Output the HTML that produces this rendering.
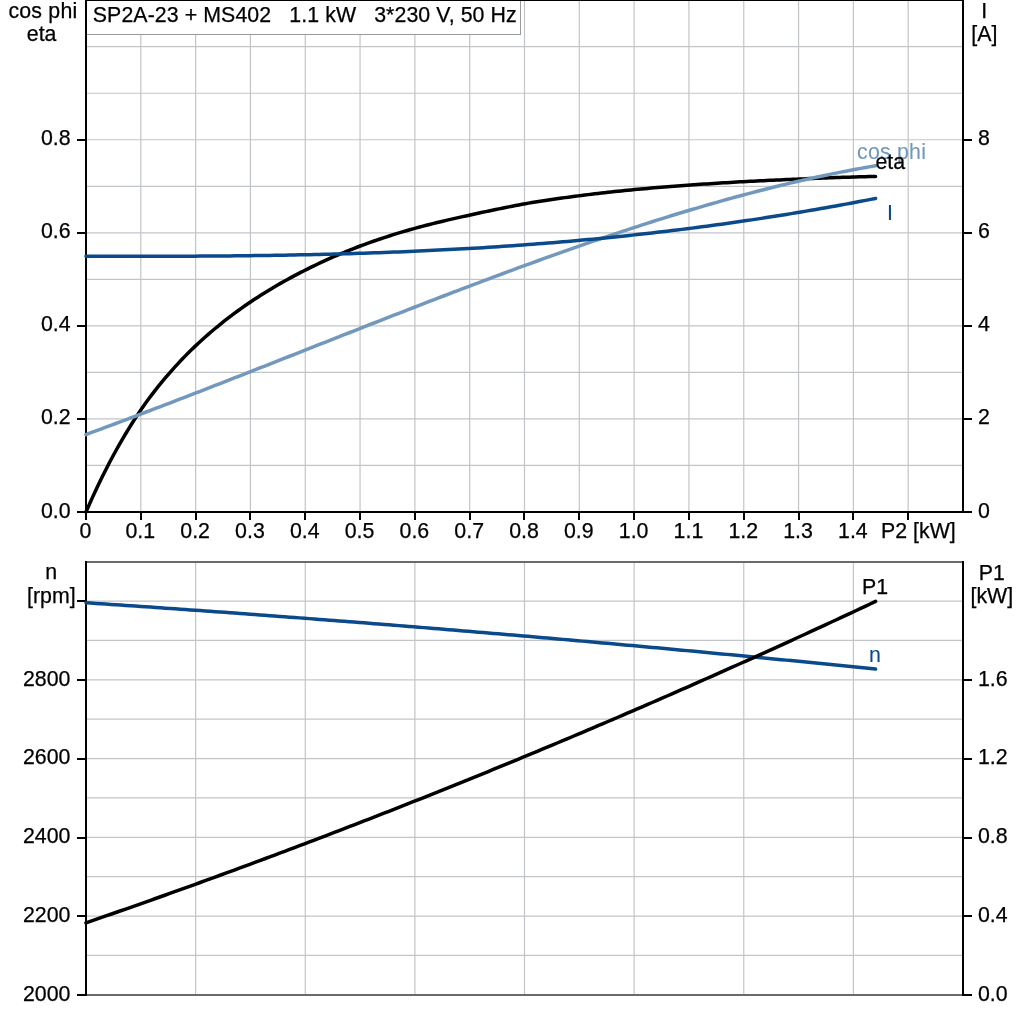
<!DOCTYPE html>
<html lang="en"><head><meta charset="utf-8"><title>SP2A-23 + MS402 motor curves</title>
<style>
html,body{margin:0;padding:0;background:#fff;}
body{width:1024px;height:1024px;overflow:hidden;}
svg{display:block;}
text{font-family:"Liberation Sans",Arial,Helvetica,sans-serif;font-size:21.33px;fill:#000;stroke:#000;stroke-width:0.25px;}
.g{stroke:#c2c5c8;stroke-width:1.2;}
.ax{stroke:#000;stroke-width:2;shape-rendering:crispEdges;}
.fr{stroke:#6a6a6a;stroke-width:2;shape-rendering:crispEdges;}
.c{fill:none;stroke-width:3.5;stroke-linecap:round;stroke-linejoin:round;}
.e{text-anchor:end;}.m{text-anchor:middle;}
</style></head><body>
<svg width="1024" height="1024" viewBox="0 0 1024 1024">
<rect x="0" y="0" width="1024" height="1024" fill="#fff"/>
<g class="g">
<line x1="140.81" y1="0" x2="140.81" y2="511"/>
<line x1="195.62" y1="0" x2="195.62" y2="511"/>
<line x1="250.44" y1="0" x2="250.44" y2="511"/>
<line x1="305.25" y1="0" x2="305.25" y2="511"/>
<line x1="360.06" y1="0" x2="360.06" y2="511"/>
<line x1="414.88" y1="0" x2="414.88" y2="511"/>
<line x1="469.69" y1="0" x2="469.69" y2="511"/>
<line x1="524.5" y1="0" x2="524.5" y2="511"/>
<line x1="579.31" y1="0" x2="579.31" y2="511"/>
<line x1="634.12" y1="0" x2="634.12" y2="511"/>
<line x1="688.94" y1="0" x2="688.94" y2="511"/>
<line x1="743.75" y1="0" x2="743.75" y2="511"/>
<line x1="798.56" y1="0" x2="798.56" y2="511"/>
<line x1="853.38" y1="0" x2="853.38" y2="511"/>
<line x1="908.19" y1="0" x2="908.19" y2="511"/>
<line x1="87" y1="465.47" x2="962" y2="465.47"/>
<line x1="87" y1="418.94" x2="962" y2="418.94"/>
<line x1="87" y1="372.41" x2="962" y2="372.41"/>
<line x1="87" y1="325.88" x2="962" y2="325.88"/>
<line x1="87" y1="279.35" x2="962" y2="279.35"/>
<line x1="87" y1="232.82" x2="962" y2="232.82"/>
<line x1="87" y1="186.29" x2="962" y2="186.29"/>
<line x1="87" y1="139.76" x2="962" y2="139.76"/>
<line x1="87" y1="93.23" x2="962" y2="93.23"/>
<line x1="87" y1="46.7" x2="962" y2="46.7"/>
</g>
<rect x="87" y="1" width="434" height="33.5" fill="#fff" stroke="none"/>
<path d="M520.5 1 V34.5 H87" fill="none" stroke="#999999" stroke-width="1" shape-rendering="crispEdges"/>
<text x="92.8" y="21.7" style="white-space:pre;letter-spacing:0.08px">SP2A-23 + MS402&#160;&#160; 1.1 kW&#160;&#160; 3*230 V, 50 Hz</text>
<g class="g">
<line x1="195.62" y1="563" x2="195.62" y2="994"/>
<line x1="305.25" y1="563" x2="305.25" y2="994"/>
<line x1="414.88" y1="563" x2="414.88" y2="994"/>
<line x1="524.5" y1="563" x2="524.5" y2="994"/>
<line x1="634.12" y1="563" x2="634.12" y2="994"/>
<line x1="743.75" y1="563" x2="743.75" y2="994"/>
<line x1="853.38" y1="563" x2="853.38" y2="994"/>
<line x1="87" y1="955.43" x2="962" y2="955.43"/>
<line x1="87" y1="916.06" x2="962" y2="916.06"/>
<line x1="87" y1="876.69" x2="962" y2="876.69"/>
<line x1="87" y1="837.32" x2="962" y2="837.32"/>
<line x1="87" y1="797.95" x2="962" y2="797.95"/>
<line x1="87" y1="758.58" x2="962" y2="758.58"/>
<line x1="87" y1="719.21" x2="962" y2="719.21"/>
<line x1="87" y1="679.84" x2="962" y2="679.84"/>
<line x1="87" y1="640.47" x2="962" y2="640.47"/>
<line x1="87" y1="601.1" x2="962" y2="601.1"/>
</g>
<g class="fr">
<line x1="86" y1="562" x2="963" y2="562"/>
<line x1="86" y1="995" x2="963" y2="995"/>
</g>
<g class="ax">
<line x1="85" y1="0" x2="964" y2="0"/>
<line x1="86" y1="0" x2="86" y2="513"/>
<line x1="963" y1="0" x2="963" y2="513"/>
<line x1="77" y1="512" x2="972" y2="512"/>
<line x1="86" y1="561" x2="86" y2="996"/>
<line x1="963" y1="561" x2="963" y2="996"/>
<line x1="77" y1="512" x2="85" y2="512"/>
<line x1="964" y1="512" x2="972" y2="512"/>
<line x1="77" y1="419" x2="85" y2="419"/>
<line x1="964" y1="419" x2="972" y2="419"/>
<line x1="77" y1="326" x2="85" y2="326"/>
<line x1="964" y1="326" x2="972" y2="326"/>
<line x1="77" y1="233" x2="85" y2="233"/>
<line x1="964" y1="233" x2="972" y2="233"/>
<line x1="77" y1="140" x2="85" y2="140"/>
<line x1="964" y1="140" x2="972" y2="140"/>
<line x1="86" y1="513" x2="86" y2="520"/>
<line x1="141" y1="513" x2="141" y2="520"/>
<line x1="196" y1="513" x2="196" y2="520"/>
<line x1="250" y1="513" x2="250" y2="520"/>
<line x1="305" y1="513" x2="305" y2="520"/>
<line x1="360" y1="513" x2="360" y2="520"/>
<line x1="415" y1="513" x2="415" y2="520"/>
<line x1="470" y1="513" x2="470" y2="520"/>
<line x1="524" y1="513" x2="524" y2="520"/>
<line x1="579" y1="513" x2="579" y2="520"/>
<line x1="634" y1="513" x2="634" y2="520"/>
<line x1="689" y1="513" x2="689" y2="520"/>
<line x1="744" y1="513" x2="744" y2="520"/>
<line x1="799" y1="513" x2="799" y2="520"/>
<line x1="853" y1="513" x2="853" y2="520"/>
<line x1="908" y1="513" x2="908" y2="520"/>
<line x1="77" y1="995" x2="85" y2="995"/>
<line x1="964" y1="995" x2="972" y2="995"/>
<line x1="77" y1="916" x2="85" y2="916"/>
<line x1="964" y1="916" x2="972" y2="916"/>
<line x1="77" y1="838" x2="85" y2="838"/>
<line x1="964" y1="838" x2="972" y2="838"/>
<line x1="77" y1="759" x2="85" y2="759"/>
<line x1="964" y1="759" x2="972" y2="759"/>
<line x1="77" y1="680" x2="85" y2="680"/>
<line x1="964" y1="680" x2="972" y2="680"/>
<line x1="77" y1="601" x2="85" y2="601"/>
</g>
<path class="c" stroke="#000" d="M86 512 L89.3 504.47 L92.61 497.13 L95.91 489.99 L99.22 483.03 L102.52 476.25 L105.82 469.66 L109.13 463.26 L112.43 457.04 L115.73 450.99 L119.04 445.1 L122.34 439.35 L125.65 433.75 L128.95 428.3 L132.25 423 L135.56 417.84 L138.86 412.84 L142.16 407.99 L145.47 403.29 L148.77 398.73 L152.08 394.33 L155.38 390.06 L158.68 385.94 L161.99 381.91 L165.29 377.97 L168.59 374.12 L171.9 370.35 L175.2 366.67 L178.51 363.07 L181.81 359.56 L185.11 356.14 L188.42 352.8 L191.72 349.55 L195.02 346.38 L198.33 343.29 L201.63 340.26 L204.94 337.3 L208.24 334.4 L211.54 331.55 L214.85 328.77 L218.15 326.03 L221.45 323.36 L224.76 320.73 L228.06 318.16 L231.37 315.64 L234.67 313.17 L237.97 310.75 L241.28 308.37 L244.58 306.04 L247.88 303.76 L251.19 301.52 L254.49 299.32 L257.8 297.16 L261.1 295.04 L264.4 292.97 L267.71 290.92 L271.01 288.92 L274.31 286.95 L277.62 285.02 L280.92 283.12 L284.23 281.25 L287.53 279.42 L290.83 277.62 L294.14 275.85 L297.44 274.11 L300.74 272.4 L304.05 270.72 L307.35 269.07 L310.66 267.44 L313.96 265.83 L317.26 264.25 L320.57 262.7 L323.87 261.16 L327.17 259.66 L330.48 258.17 L333.78 256.72 L337.09 255.29 L340.39 253.88 L343.69 252.5 L347 251.15 L350.3 249.82 L353.61 248.52 L356.91 247.25 L360.21 246 L363.52 244.78 L366.82 243.58 L370.12 242.4 L373.43 241.24 L376.73 240.1 L380.04 238.98 L383.34 237.88 L386.64 236.8 L389.95 235.74 L393.25 234.69 L396.55 233.67 L399.86 232.66 L403.16 231.68 L406.47 230.71 L409.77 229.76 L413.07 228.82 L416.38 227.91 L419.68 227.01 L422.98 226.13 L426.29 225.27 L429.59 224.43 L432.9 223.6 L436.2 222.79 L439.5 221.99 L442.81 221.2 L446.11 220.42 L449.41 219.65 L452.72 218.9 L456.02 218.14 L459.33 217.4 L462.63 216.66 L465.93 215.92 L469.24 215.19 L472.54 214.46 L475.84 213.74 L479.15 213.02 L482.45 212.32 L485.76 211.62 L489.06 210.93 L492.36 210.24 L495.67 209.56 L498.97 208.89 L502.27 208.22 L505.58 207.56 L508.88 206.9 L512.19 206.24 L515.49 205.58 L518.79 204.93 L522.1 204.3 L525.4 203.71 L528.7 203.14 L532.01 202.59 L535.31 202.04 L538.62 201.51 L541.92 200.99 L545.22 200.48 L548.53 199.98 L551.83 199.49 L555.13 199.01 L558.44 198.54 L561.74 198.08 L565.05 197.62 L568.35 197.17 L571.65 196.73 L574.96 196.3 L578.26 195.87 L581.56 195.45 L584.87 195.04 L588.17 194.63 L591.48 194.23 L594.78 193.84 L598.08 193.45 L601.39 193.07 L604.69 192.69 L607.99 192.32 L611.3 191.96 L614.6 191.6 L617.91 191.25 L621.21 190.91 L624.51 190.58 L627.82 190.25 L631.12 189.92 L634.43 189.6 L637.73 189.29 L641.03 188.99 L644.34 188.69 L647.64 188.39 L650.94 188.1 L654.25 187.82 L657.55 187.54 L660.86 187.26 L664.16 186.99 L667.46 186.73 L670.77 186.47 L674.07 186.21 L677.37 185.96 L680.68 185.71 L683.98 185.47 L687.29 185.23 L690.59 184.99 L693.89 184.76 L697.2 184.53 L700.5 184.31 L703.8 184.1 L707.11 183.88 L710.41 183.67 L713.72 183.47 L717.02 183.26 L720.32 183.05 L723.63 182.85 L726.93 182.64 L730.23 182.44 L733.54 182.24 L736.84 182.05 L740.15 181.86 L743.45 181.67 L746.75 181.49 L750.06 181.32 L753.36 181.15 L756.66 180.98 L759.97 180.82 L763.27 180.65 L766.58 180.5 L769.88 180.34 L773.18 180.19 L776.49 180.04 L779.79 179.89 L783.09 179.74 L786.4 179.59 L789.7 179.45 L793.01 179.31 L796.31 179.17 L799.61 179.03 L802.92 178.89 L806.22 178.76 L809.52 178.62 L812.83 178.49 L816.13 178.35 L819.44 178.22 L822.74 178.09 L826.04 177.96 L829.35 177.84 L832.65 177.72 L835.95 177.6 L839.26 177.48 L842.56 177.37 L845.87 177.26 L849.17 177.16 L852.47 177.05 L855.78 176.96 L859.08 176.87 L862.38 176.78 L865.69 176.69 L868.99 176.61 L872.3 176.53 L875.6 176.45"/>
<path class="c" stroke="#7299bd" d="M86 434.57 L90.97 432.73 L95.93 430.9 L100.9 429.06 L105.86 427.21 L110.83 425.36 L115.8 423.5 L120.76 421.64 L125.73 419.77 L130.69 417.9 L135.66 416.02 L140.63 414.14 L145.59 412.26 L150.56 410.37 L155.52 408.47 L160.49 406.58 L165.46 404.68 L170.42 402.77 L175.39 400.86 L180.35 398.95 L185.32 397.03 L190.29 395.12 L195.25 393.19 L200.22 391.27 L205.18 389.34 L210.15 387.41 L215.12 385.48 L220.08 383.54 L225.05 381.6 L230.02 379.66 L234.98 377.72 L239.95 375.78 L244.91 373.83 L249.88 371.88 L254.85 369.93 L259.81 367.98 L264.78 366.03 L269.74 364.07 L274.71 362.12 L279.68 360.16 L284.64 358.2 L289.61 356.25 L294.57 354.29 L299.54 352.33 L304.51 350.37 L309.47 348.41 L314.44 346.45 L319.4 344.49 L324.37 342.54 L329.34 340.58 L334.3 338.62 L339.27 336.66 L344.23 334.71 L349.2 332.75 L354.17 330.8 L359.13 328.85 L364.1 326.89 L369.06 324.95 L374.03 323 L379 321.05 L383.96 319.11 L388.93 317.17 L393.89 315.23 L398.86 313.29 L403.83 311.36 L408.79 309.43 L413.76 307.5 L418.72 305.57 L423.69 303.65 L428.66 301.73 L433.62 299.82 L438.59 297.91 L443.55 296 L448.52 294.1 L453.49 292.2 L458.45 290.3 L463.42 288.42 L468.38 286.53 L473.35 284.65 L478.32 282.78 L483.28 280.91 L488.25 279.04 L493.22 277.19 L498.18 275.33 L503.15 273.49 L508.11 271.65 L513.08 269.81 L518.05 267.98 L523.01 266.16 L527.98 264.35 L532.94 262.54 L537.91 260.74 L542.88 258.95 L547.84 257.17 L552.81 255.39 L557.77 253.62 L562.74 251.86 L567.71 250.11 L572.67 248.36 L577.64 246.63 L582.6 244.9 L587.57 243.18 L592.54 241.47 L597.5 239.77 L602.47 238.08 L607.43 236.4 L612.4 234.73 L617.37 233.07 L622.33 231.42 L627.3 229.79 L632.26 228.16 L637.23 226.54 L642.2 224.93 L647.16 223.34 L652.13 221.76 L657.09 220.18 L662.06 218.62 L667.03 217.08 L671.99 215.54 L676.96 214.02 L681.92 212.51 L686.89 211.01 L691.86 209.53 L696.82 208.06 L701.79 206.6 L706.75 205.16 L711.72 203.73 L716.69 202.31 L721.65 200.91 L726.62 199.52 L731.58 198.15 L736.55 196.8 L741.52 195.45 L746.48 194.13 L751.45 192.82 L756.42 191.52 L761.38 190.25 L766.35 188.98 L771.31 187.74 L776.28 186.51 L781.25 185.3 L786.21 184.1 L791.18 182.92 L796.14 181.76 L801.11 180.62 L806.08 179.5 L811.04 178.39 L816.01 177.3 L820.97 176.23 L825.94 175.18 L830.91 174.15 L835.87 173.14 L840.84 172.15 L845.8 171.18 L850.77 170.23 L855.74 169.3 L860.7 168.38 L865.67 167.49 L870.63 166.62 L875.6 165.78"/>
<path class="c" stroke="#0a4a8a" d="M86 256.29 L90.97 256.3 L95.93 256.3 L100.9 256.31 L105.86 256.31 L110.83 256.31 L115.8 256.32 L120.76 256.32 L125.73 256.32 L130.69 256.31 L135.66 256.31 L140.63 256.31 L145.59 256.3 L150.56 256.29 L155.52 256.29 L160.49 256.27 L165.46 256.26 L170.42 256.25 L175.39 256.23 L180.35 256.21 L185.32 256.19 L190.29 256.17 L195.25 256.14 L200.22 256.11 L205.18 256.08 L210.15 256.05 L215.12 256.01 L220.08 255.97 L225.05 255.93 L230.02 255.88 L234.98 255.83 L239.95 255.78 L244.91 255.72 L249.88 255.66 L254.85 255.6 L259.81 255.54 L264.78 255.47 L269.74 255.39 L274.71 255.31 L279.68 255.23 L284.64 255.15 L289.61 255.06 L294.57 254.97 L299.54 254.87 L304.51 254.77 L309.47 254.66 L314.44 254.55 L319.4 254.43 L324.37 254.31 L329.34 254.19 L334.3 254.06 L339.27 253.93 L344.23 253.79 L349.2 253.64 L354.17 253.49 L359.13 253.34 L364.1 253.18 L369.06 253.02 L374.03 252.85 L379 252.67 L383.96 252.49 L388.93 252.3 L393.89 252.11 L398.86 251.92 L403.83 251.71 L408.79 251.5 L413.76 251.29 L418.72 251.07 L423.69 250.84 L428.66 250.61 L433.62 250.37 L438.59 250.12 L443.55 249.87 L448.52 249.61 L453.49 249.35 L458.45 249.08 L463.42 248.8 L468.38 248.52 L473.35 248.23 L478.32 247.93 L483.28 247.63 L488.25 247.32 L493.22 247 L498.18 246.68 L503.15 246.35 L508.11 246.01 L513.08 245.66 L518.05 245.31 L523.01 244.95 L527.98 244.58 L532.94 244.21 L537.91 243.83 L542.88 243.44 L547.84 243.04 L552.81 242.64 L557.77 242.23 L562.74 241.81 L567.71 241.39 L572.67 240.95 L577.64 240.51 L582.6 240.06 L587.57 239.6 L592.54 239.14 L597.5 238.67 L602.47 238.18 L607.43 237.7 L612.4 237.2 L617.37 236.69 L622.33 236.18 L627.3 235.66 L632.26 235.13 L637.23 234.59 L642.2 234.05 L647.16 233.49 L652.13 232.93 L657.09 232.36 L662.06 231.78 L667.03 231.19 L671.99 230.59 L676.96 229.99 L681.92 229.37 L686.89 228.75 L691.86 228.12 L696.82 227.48 L701.79 226.83 L706.75 226.17 L711.72 225.51 L716.69 224.83 L721.65 224.15 L726.62 223.46 L731.58 222.76 L736.55 222.05 L741.52 221.33 L746.48 220.6 L751.45 219.86 L756.42 219.11 L761.38 218.36 L766.35 217.59 L771.31 216.82 L776.28 216.04 L781.25 215.24 L786.21 214.44 L791.18 213.63 L796.14 212.81 L801.11 211.98 L806.08 211.14 L811.04 210.3 L816.01 209.44 L820.97 208.57 L825.94 207.7 L830.91 206.81 L835.87 205.92 L840.84 205.01 L845.8 204.1 L850.77 203.17 L855.74 202.24 L860.7 201.3 L865.67 200.35 L870.63 199.39 L875.6 198.42"/>
<path class="c" stroke="#0a4a8a" d="M86 602.76 L90.97 603.09 L95.93 603.42 L100.9 603.75 L105.86 604.08 L110.83 604.41 L115.8 604.74 L120.76 605.08 L125.73 605.41 L130.69 605.75 L135.66 606.09 L140.63 606.43 L145.59 606.77 L150.56 607.11 L155.52 607.45 L160.49 607.8 L165.46 608.14 L170.42 608.49 L175.39 608.83 L180.35 609.18 L185.32 609.53 L190.29 609.88 L195.25 610.23 L200.22 610.59 L205.18 610.94 L210.15 611.3 L215.12 611.65 L220.08 612.01 L225.05 612.37 L230.02 612.73 L234.98 613.09 L239.95 613.45 L244.91 613.81 L249.88 614.18 L254.85 614.54 L259.81 614.91 L264.78 615.27 L269.74 615.64 L274.71 616.01 L279.68 616.38 L284.64 616.76 L289.61 617.13 L294.57 617.5 L299.54 617.88 L304.51 618.25 L309.47 618.63 L314.44 619.01 L319.4 619.39 L324.37 619.77 L329.34 620.15 L334.3 620.54 L339.27 620.92 L344.23 621.31 L349.2 621.69 L354.17 622.08 L359.13 622.47 L364.1 622.86 L369.06 623.25 L374.03 623.64 L379 624.04 L383.96 624.43 L388.93 624.83 L393.89 625.22 L398.86 625.62 L403.83 626.02 L408.79 626.42 L413.76 626.82 L418.72 627.22 L423.69 627.63 L428.66 628.03 L433.62 628.44 L438.59 628.84 L443.55 629.25 L448.52 629.66 L453.49 630.07 L458.45 630.48 L463.42 630.9 L468.38 631.31 L473.35 631.72 L478.32 632.14 L483.28 632.56 L488.25 632.97 L493.22 633.39 L498.18 633.81 L503.15 634.24 L508.11 634.66 L513.08 635.08 L518.05 635.51 L523.01 635.93 L527.98 636.36 L532.94 636.79 L537.91 637.22 L542.88 637.65 L547.84 638.08 L552.81 638.51 L557.77 638.95 L562.74 639.38 L567.71 639.82 L572.67 640.25 L577.64 640.69 L582.6 641.13 L587.57 641.57 L592.54 642.02 L597.5 642.46 L602.47 642.9 L607.43 643.35 L612.4 643.79 L617.37 644.24 L622.33 644.69 L627.3 645.14 L632.26 645.59 L637.23 646.04 L642.2 646.5 L647.16 646.95 L652.13 647.4 L657.09 647.86 L662.06 648.32 L667.03 648.78 L671.99 649.24 L676.96 649.7 L681.92 650.16 L686.89 650.62 L691.86 651.09 L696.82 651.55 L701.79 652.02 L706.75 652.49 L711.72 652.96 L716.69 653.43 L721.65 653.9 L726.62 654.37 L731.58 654.84 L736.55 655.32 L741.52 655.79 L746.48 656.27 L751.45 656.75 L756.42 657.23 L761.38 657.71 L766.35 658.19 L771.31 658.67 L776.28 659.15 L781.25 659.64 L786.21 660.12 L791.18 660.61 L796.14 661.1 L801.11 661.59 L806.08 662.08 L811.04 662.57 L816.01 663.06 L820.97 663.56 L825.94 664.05 L830.91 664.55 L835.87 665.04 L840.84 665.54 L845.8 666.04 L850.77 666.54 L855.74 667.04 L860.7 667.55 L865.67 668.05 L870.63 668.55 L875.6 669.06"/>
<path class="c" stroke="#000" d="M86 922.83 L90.97 921.12 L95.93 919.4 L100.9 917.68 L105.86 915.96 L110.83 914.23 L115.8 912.5 L120.76 910.77 L125.73 909.03 L130.69 907.29 L135.66 905.54 L140.63 903.79 L145.59 902.04 L150.56 900.28 L155.52 898.52 L160.49 896.75 L165.46 894.98 L170.42 893.21 L175.39 891.43 L180.35 889.65 L185.32 887.87 L190.29 886.08 L195.25 884.28 L200.22 882.49 L205.18 880.68 L210.15 878.88 L215.12 877.07 L220.08 875.26 L225.05 873.44 L230.02 871.62 L234.98 869.8 L239.95 867.97 L244.91 866.13 L249.88 864.3 L254.85 862.46 L259.81 860.61 L264.78 858.76 L269.74 856.91 L274.71 855.06 L279.68 853.2 L284.64 851.33 L289.61 849.46 L294.57 847.59 L299.54 845.72 L304.51 843.84 L309.47 841.95 L314.44 840.07 L319.4 838.17 L324.37 836.28 L329.34 834.38 L334.3 832.48 L339.27 830.57 L344.23 828.66 L349.2 826.74 L354.17 824.82 L359.13 822.9 L364.1 820.97 L369.06 819.04 L374.03 817.11 L379 815.17 L383.96 813.23 L388.93 811.28 L393.89 809.33 L398.86 807.37 L403.83 805.42 L408.79 803.45 L413.76 801.49 L418.72 799.52 L423.69 797.54 L428.66 795.57 L433.62 793.58 L438.59 791.6 L443.55 789.61 L448.52 787.61 L453.49 785.62 L458.45 783.62 L463.42 781.61 L468.38 779.6 L473.35 777.59 L478.32 775.57 L483.28 773.55 L488.25 771.52 L493.22 769.49 L498.18 767.46 L503.15 765.42 L508.11 763.38 L513.08 761.34 L518.05 759.29 L523.01 757.24 L527.98 755.18 L532.94 753.12 L537.91 751.05 L542.88 748.99 L547.84 746.91 L552.81 744.84 L557.77 742.76 L562.74 740.67 L567.71 738.58 L572.67 736.49 L577.64 734.4 L582.6 732.3 L587.57 730.19 L592.54 728.08 L597.5 725.97 L602.47 723.86 L607.43 721.74 L612.4 719.61 L617.37 717.49 L622.33 715.35 L627.3 713.22 L632.26 711.08 L637.23 708.94 L642.2 706.79 L647.16 704.64 L652.13 702.48 L657.09 700.32 L662.06 698.16 L667.03 695.99 L671.99 693.82 L676.96 691.65 L681.92 689.47 L686.89 687.29 L691.86 685.1 L696.82 682.91 L701.79 680.72 L706.75 678.52 L711.72 676.32 L716.69 674.11 L721.65 671.9 L726.62 669.68 L731.58 667.47 L736.55 665.24 L741.52 663.02 L746.48 660.79 L751.45 658.56 L756.42 656.32 L761.38 654.08 L766.35 651.83 L771.31 649.58 L776.28 647.33 L781.25 645.07 L786.21 642.81 L791.18 640.54 L796.14 638.27 L801.11 636 L806.08 633.72 L811.04 631.44 L816.01 629.16 L820.97 626.87 L825.94 624.58 L830.91 622.28 L835.87 619.98 L840.84 617.67 L845.8 615.36 L850.77 613.05 L855.74 610.74 L860.7 608.41 L865.67 606.09 L870.63 603.76 L875.6 601.43"/>
<text x="857" y="158.5" style="fill:#7299bd;stroke:#7299bd;letter-spacing:0.22px;stroke-width:0.1px">cos phi</text>
<text x="875.5" y="168.5">eta</text>
<text x="887.1" y="220" style="fill:#0a4a8a;stroke:#0a4a8a;stroke-width:0.1px">I</text>
<text x="862" y="594">P1</text>
<text x="869" y="661.5" style="fill:#0a4a8a;stroke:#0a4a8a;stroke-width:0.1px">n</text>
<text class="m" x="42.9" y="18" style="letter-spacing:0.2px">cos phi</text>
<text class="m" x="41.6" y="41">eta</text>
<text class="m" x="984.3" y="18">I</text>
<text class="m" x="984.3" y="41">[A]</text>
<text class="m" x="51.3" y="579">n</text>
<text class="m" x="51.3" y="602.9">[rpm]</text>
<text class="m" x="991.8" y="579.5">P1</text>
<text class="m" x="991.8" y="602.5">[kW]</text>
<text class="e" x="70.6" y="517.5">0.0</text>
<text x="978" y="517.5">0</text>
<text class="e" x="70.6" y="424.44">0.2</text>
<text x="978" y="424.44">2</text>
<text class="e" x="70.6" y="331.38">0.4</text>
<text x="978" y="331.38">4</text>
<text class="e" x="70.6" y="238.32">0.6</text>
<text x="978" y="238.32">6</text>
<text class="e" x="70.6" y="145.26">0.8</text>
<text x="978" y="145.26">8</text>
<text class="m" x="85.5" y="538">0</text>
<text class="m" x="140.31" y="538">0.1</text>
<text class="m" x="195.12" y="538">0.2</text>
<text class="m" x="249.94" y="538">0.3</text>
<text class="m" x="304.75" y="538">0.4</text>
<text class="m" x="359.56" y="538">0.5</text>
<text class="m" x="414.38" y="538">0.6</text>
<text class="m" x="469.19" y="538">0.7</text>
<text class="m" x="524" y="538">0.8</text>
<text class="m" x="578.81" y="538">0.9</text>
<text class="m" x="633.62" y="538">1.0</text>
<text class="m" x="688.44" y="538">1.1</text>
<text class="m" x="743.25" y="538">1.2</text>
<text class="m" x="798.06" y="538">1.3</text>
<text class="m" x="852.88" y="538">1.4</text>
<text x="881.1" y="538">P2 [kW]</text>
<text class="e" x="70.4" y="1000.6">2000</text>
<text x="978" y="1000.6">0.0</text>
<text class="e" x="70.4" y="921.86">2200</text>
<text x="978" y="921.86">0.4</text>
<text class="e" x="70.4" y="843.12">2400</text>
<text x="978" y="843.12">0.8</text>
<text class="e" x="70.4" y="764.38">2600</text>
<text x="978" y="764.38">1.2</text>
<text class="e" x="70.4" y="685.64">2800</text>
<text x="978" y="685.64">1.6</text>
</svg>
</body></html>
